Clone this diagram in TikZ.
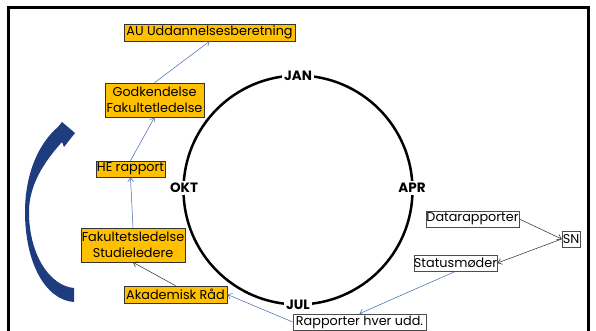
\documentclass[tikz,border=0pt]{standalone}
\usepackage{fontspec}
\setmainfont{Poppins}
\usetikzlibrary{arrows.meta}
\definecolor{gold}{HTML}{FFC000}
\definecolor{navy}{HTML}{1F3C7F}
\definecolor{lblue}{HTML}{3F63AE}
\begin{document}
\begin{tikzpicture}[x=1pt,y=-1pt,
  ybox/.style={draw=black!80, fill=gold, line width=0.7pt, inner sep=0pt, align=center,
    font=\fontsize{12.8}{16}\selectfont},
  wbox/.style={draw=black!70, fill=white, line width=0.7pt, inner sep=0pt,
    font=\fontsize{12.8}{16}\selectfont},
  mlabel/.style={fill=white, inner sep=2pt, font=\bfseries\fontsize{13.5}{14}\selectfont},
  barrow/.style={draw=lblue, line width=0.5pt, -{Straight Barb[length=4pt,width=6pt]}},
  karrow/.style={draw=black!85, line width=0.5pt, -{Straight Barb[length=4pt,width=6pt]}}]
\useasboundingbox (0,0) rectangle (596,331);
% frame
\draw[line width=3pt] (8,331) -- (8,8) -- (588,8) -- (588,331);
% year circle
\draw[line width=2.5pt] (298,190) circle[radius=114.5pt];
\node[mlabel] (jan) at (298,76) {JAN};
\node[mlabel] (apr) at (412,188) {APR};
\node[mlabel] (okt) at (184,188) {OKT};
\node[mlabel] (jul) at (298,305) {JUL};
% curved arrow
\fill[navy] (74,302) .. controls (45,300) and (25,262) .. (25,212)
  .. controls (25,172) and (40,142) .. (58,127)
  -- (62,122) -- (75,133) -- (64,147) -- (62,142)
  .. controls (44,162) and (29,185) .. (29,212)
  .. controls (29,255) and (50,286) .. (74,288) -- cycle;
% yellow boxes
\node[ybox, minimum width=171pt, minimum height=17pt] (au) at (209.5,32.5) {AU Uddannelsesberetning};
\node[ybox, minimum width=99pt, minimum height=34pt] (godk) at (154.5,100) {Godkendelse\\Fakultetledelse};
\node[ybox, minimum width=69pt, minimum height=16pt] (he) at (130.5,169) {HE rapport};
\node[ybox, minimum width=104pt, minimum height=34pt] (fak) at (133,245) {Fakultetsledelse\\Studieledere};
\node[ybox, minimum width=103pt, minimum height=17pt] (akad) at (175.5,294.5) {Akademisk Råd};
% white boxes
\node[wbox, minimum width=93pt, minimum height=16pt] (data) at (472.5,219) {Datarapporter};
\node[wbox, minimum width=18pt, minimum height=16pt] (sn) at (571,239) {SN};
\node[wbox, minimum width=83pt, minimum height=16pt] (status) at (455.5,263) {Statusmøder};
\node[wbox, minimum width=133pt, minimum height=16pt] (rapp) at (359.5,322) {Rapporter hver udd.};
% connectors
\draw[barrow] (godk.north) -- (au.south);
\draw[barrow] (he.north) -- (godk.south);
\draw[barrow] (fak.north) -- (he.south);
\draw[karrow] (akad.north) -- (fak.south);
\draw[barrow] (rapp.west) -- (akad.east);
\draw[barrow] (status.south) -- (rapp.north);
\draw[karrow] (data.east) -- (sn.west);
\draw[karrow] (sn.west) -- (status.east);
\end{tikzpicture}
\end{document}
